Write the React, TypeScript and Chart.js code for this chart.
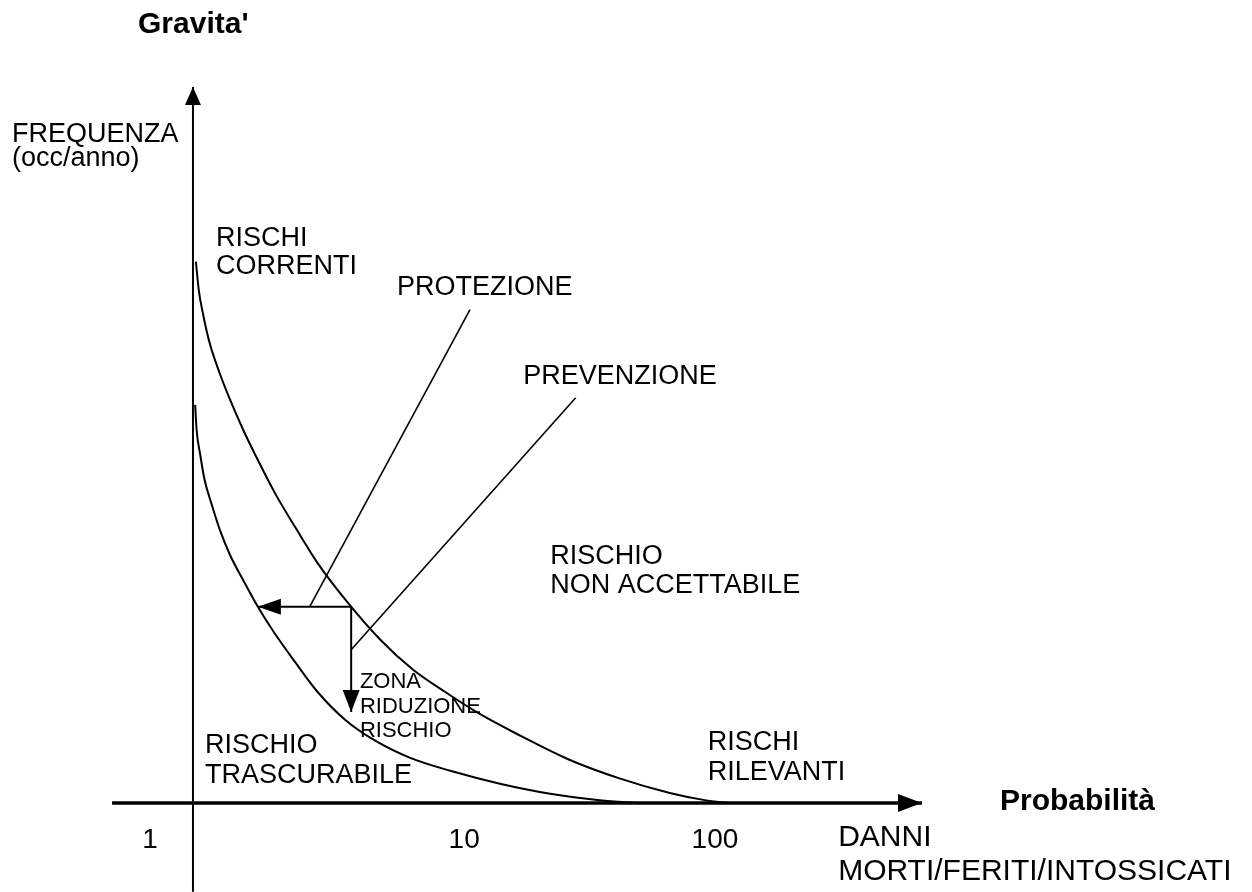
import React, { useEffect, useRef } from "react";
import { Chart, registerables } from "chart.js";

Chart.register(...registerables);

// ---- Data (diagram units: x = DANNI, y = FREQUENZA; origin at the axes' crossing) ----
const upperCurveX = [0.4, 0.8, 1.4, 2.3, 3.6, 5.1, 6.9, 8.9, 11.4, 14.1, 17.1, 20.9, 25.7, 30.2, 34.6, 39.4, 44.9, 51.7, 58.6, 65.4, 70.2, 73.7];
const upperCurveY = [75.6, 71.6, 68.2, 64.2, 60.2, 56.3, 52.1, 47.9, 43.0, 38.4, 33.5, 28.4, 22.8, 18.6, 15.5, 12.4, 9.4, 6.0, 3.4, 1.4, 0.4, 0];

const lowerCurveX = [0.3, 0.5, 1.0, 1.6, 2.6, 3.7, 5.1, 6.9, 8.9, 11.2, 14.0, 17.1, 20.9, 25.0, 29.8, 35.3, 42.1, 49.0, 55.8, 61.3];
const lowerCurveY = [55.6, 52.1, 48.6, 45.1, 41.6, 38.1, 34.6, 31.1, 27.4, 23.7, 19.7, 15.5, 11.6, 8.7, 6.3, 4.5, 2.7, 1.3, 0.4, 0];

const protezioneX = [38.0, 16.0];
const protezioneY = [68.9, 27.4];
const prevenzioneX = [52.5, 21.7];
const prevenzioneY = [56.6, 21.4];
const leftArrowX = [21.7, 8.9];
const leftArrowY = [27.4, 27.4];
const downArrowX = [21.7, 21.7];
const downArrowY = [27.4, 12.7];

const xAxisX = [-11.1, 100];
const xAxisY = [0, 0];
const yAxisX = [0, 0];
const yAxisY = [-12.4, 100];

const xTickLabels = ["1", "10", "100"];
const xTickValues = [-5.9, 37.2, 71.6];

const zoneTexts = [
  ["RISCHI", "CORRENTI"],
  ["PROTEZIONE"],
  ["PREVENZIONE"],
  ["RISCHIO", "NON ACCETTABILE"],
  ["RISCHIO", "TRASCURABILE"],
  ["RISCHI", "RILEVANTI"],
  ["DANNI", "MORTI/FERITI/INTOSSICATI"],
  ["FREQUENZA", "(occ/anno)"],
];
const smallText = ["ZONA", "RIDUZIONE", "RISCHIO"];
const yTitle = "Gravita'";
const xTitle = "Probabilità";

// ---- Layout (anchors in diagram units) ----
const FONT = "'Liberation Sans', Arial, Helvetica, sans-serif";
const zoneAnchors = [
  { x: 3.16, y: [77.8, 73.9], size: 27 },
  { x: 28.0, y: [70.9], size: 27 },
  { x: 45.3, y: [58.5], size: 27 },
  { x: 49.0, y: [33.4, 29.3], size: 27 },
  { x: 1.65, y: [7.0, 2.8], size: 27 },
  { x: 70.6, y: [7.4, 3.2], size: 27 },
  { x: 88.5, y: [-6.0, -10.75], size: 30 },
  { x: -24.83, y: [92.3, 89.0], size: 27 },
];
const smallAnchor = { x: 22.9, y: [16.1, 12.6, 9.2] };
const yTitleAnchor = { x: -7.54, y: 107.5 };
const xTitleAnchor = { x: 110.7, y: -0.98 };
const tickBaseline = -6.28;

const pts = (xs: number[], ys: number[]) => xs.map((x, i) => ({ x, y: ys[i] }));

const annotationPlugin = {
  id: "diagramText",
  afterDatasetsDraw(chart: any) {
    const { ctx, scales } = chart;
    const sx = scales.x;
    const sy = scales.y;
    ctx.save();
    // arrowheads
    chart.data.datasets.forEach((ds: any) => {
      if (!ds.arrow) return;
      const d = ds.data;
      const a = d[d.length - 2];
      const b = d[d.length - 1];
      const x1 = sx.getPixelForValue(a.x), y1 = sy.getPixelForValue(a.y);
      const x2 = sx.getPixelForValue(b.x), y2 = sy.getPixelForValue(b.y);
      const ang = Math.atan2(y2 - y1, x2 - x1);
      const L = ds.arrow.len, W = ds.arrow.half;
      ctx.beginPath();
      ctx.moveTo(x2, y2);
      ctx.lineTo(x2 - L * Math.cos(ang) - W * Math.sin(ang), y2 - L * Math.sin(ang) + W * Math.cos(ang));
      ctx.lineTo(x2 - L * Math.cos(ang) + W * Math.sin(ang), y2 - L * Math.sin(ang) - W * Math.cos(ang));
      ctx.closePath();
      ctx.fillStyle = "#000";
      ctx.fill();
    });
    ctx.fillStyle = "#000";
    ctx.textBaseline = "alphabetic";
    ctx.textAlign = "left";
    zoneTexts.forEach((lines, i) => {
      const an = zoneAnchors[i];
      ctx.font = `${an.size}px ${FONT}`;
      lines.forEach((t, j) => {
        ctx.fillText(t, sx.getPixelForValue(an.x), sy.getPixelForValue(an.y[j]));
      });
    });
    ctx.font = `22px ${FONT}`;
    smallText.forEach((t, j) => {
      ctx.fillText(t, sx.getPixelForValue(smallAnchor.x), sy.getPixelForValue(smallAnchor.y[j]));
    });
    ctx.font = `bold 30px ${FONT}`;
    ctx.fillText(yTitle, sx.getPixelForValue(yTitleAnchor.x), sy.getPixelForValue(yTitleAnchor.y));
    ctx.fillText(xTitle, sx.getPixelForValue(xTitleAnchor.x), sy.getPixelForValue(xTitleAnchor.y));
    ctx.font = `28px ${FONT}`;
    ctx.textAlign = "center";
    xTickLabels.forEach((t, i) => {
      ctx.fillText(t, sx.getPixelForValue(xTickValues[i]), sy.getPixelForValue(tickBaseline));
    });
    ctx.restore();
  },
};

export default function App() {
  const ref = useRef<HTMLCanvasElement | null>(null);
  useEffect(() => {
    document.body.style.margin = "0";
    const line = (data: any[], width: number, extra: any = {}) => ({
      data,
      borderColor: "#000",
      borderWidth: width,
      pointRadius: 0,
      showLine: true,
      fill: false,
      clip: false,
      ...extra,
    });
    const chart = new Chart(ref.current as HTMLCanvasElement, {
      type: "scatter",
      data: {
        datasets: [
          line(pts(xAxisX, xAxisY), 3.5, { arrow: { len: 24, half: 9 } }),
          line(pts(yAxisX, yAxisY), 2, { arrow: { len: 18, half: 8 } }),
          line(pts(upperCurveX, upperCurveY), 2, { cubicInterpolationMode: "monotone" }),
          line(pts(lowerCurveX, lowerCurveY), 2, { cubicInterpolationMode: "monotone" }),
          line(pts(protezioneX, protezioneY), 1.6),
          line(pts(prevenzioneX, prevenzioneY), 1.6),
          line(pts(leftArrowX, leftArrowY), 2, { arrow: { len: 23, half: 8 } }),
          line(pts(downArrowX, downArrowY), 2, { arrow: { len: 22, half: 8.5 } }),
        ] as any,
      },
      options: {
        responsive: false,
        animation: false,
        layout: { padding: 0 },
        plugins: { legend: { display: false }, tooltip: { enabled: false } },
        events: [],
        scales: {
          x: { type: "linear", display: false, min: -26.47, max: 145.27 },
          y: { type: "linear", display: false, min: -12.43, max: 112.15 },
        },
      },
      plugins: [annotationPlugin],
    });
    return () => chart.destroy();
  }, []);
  return (
    <div style={{ position: "absolute", left: 0, top: 0, width: 1252, height: 892, background: "#fff" }}>
      <canvas ref={ref} width={1252} height={892} />
    </div>
  );
}
